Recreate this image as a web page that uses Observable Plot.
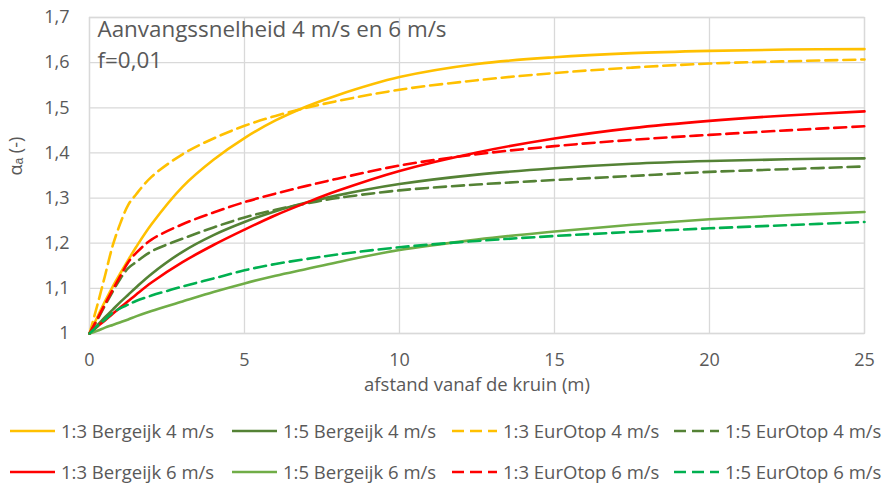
<!DOCTYPE html>
<html>
<head>
<meta charset="utf-8">
<script src="https://cdn.jsdelivr.net/npm/d3@7"></script>
<script src="https://cdn.jsdelivr.net/npm/@observablehq/plot@0.6"></script>
<style>
  html, body { margin: 0; padding: 0; background: #fff; }
  #chart { width: 888px; }
  .legend { font-family: "Open Sans", sans-serif; font-size: 18.5px; color: #595959; padding-top: 10px; }
  .row { display: flex; height: 41px; line-height: 41px; padding-left: 10px; white-space: nowrap; }
  .item { display: flex; align-items: center; }
  .item svg { margin-right: 6px; }
</style>
</head>
<body>
<div id="chart"></div>
<script>
// Distance from the crest (m)
const distance = [0, 0.25, 0.5, 0.75, 1, 1.25, 1.5, 2, 3, 4, 5, 6, 7, 8, 10, 12.5, 15, 17.5, 20, 22.5, 25];

// alpha_a per curve, on the distance grid above
const bergeijk13_4 = [1.000, 1.036, 1.071, 1.104, 1.134, 1.163, 1.191, 1.242, 1.325, 1.385, 1.433, 1.472, 1.503, 1.528, 1.568, 1.597, 1.612, 1.621, 1.626, 1.629, 1.630];
const bergeijk15_4 = [1.000, 1.018, 1.036, 1.053, 1.070, 1.086, 1.102, 1.132, 1.181, 1.218, 1.247, 1.271, 1.290, 1.306, 1.331, 1.352, 1.366, 1.376, 1.382, 1.386, 1.388];
const eurotop13_4  = [1.000, 1.062, 1.128, 1.195, 1.245, 1.285, 1.308, 1.347, 1.397, 1.432, 1.460, 1.482, 1.500, 1.515, 1.540, 1.561, 1.577, 1.589, 1.598, 1.603, 1.607];
const eurotop15_4  = [1.000, 1.030, 1.062, 1.093, 1.122, 1.145, 1.158, 1.182, 1.210, 1.235, 1.257, 1.274, 1.288, 1.300, 1.317, 1.330, 1.340, 1.349, 1.358, 1.364, 1.370];
const bergeijk13_6 = [1.000, 1.015, 1.029, 1.044, 1.058, 1.072, 1.086, 1.113, 1.158, 1.196, 1.230, 1.262, 1.290, 1.316, 1.360, 1.401, 1.432, 1.455, 1.471, 1.483, 1.492];
const bergeijk15_6 = [1.000, 1.006, 1.013, 1.019, 1.025, 1.031, 1.038, 1.050, 1.071, 1.092, 1.111, 1.128, 1.143, 1.158, 1.185, 1.208, 1.226, 1.241, 1.253, 1.262, 1.269];
const eurotop13_6  = [1.000, 1.032, 1.065, 1.097, 1.128, 1.158, 1.178, 1.208, 1.242, 1.268, 1.291, 1.310, 1.327, 1.343, 1.372, 1.397, 1.415, 1.429, 1.440, 1.450, 1.459];
const eurotop15_6  = [1.000, 1.016, 1.031, 1.046, 1.056, 1.064, 1.072, 1.084, 1.104, 1.122, 1.140, 1.154, 1.165, 1.175, 1.191, 1.205, 1.216, 1.225, 1.233, 1.240, 1.247];

const seriesNames = [
  "1:3 Bergeijk 4 m/s", "1:5 Bergeijk 4 m/s", "1:3 EurOtop 4 m/s", "1:5 EurOtop 4 m/s",
  "1:3 Bergeijk 6 m/s", "1:5 Bergeijk 6 m/s", "1:3 EurOtop 6 m/s", "1:5 EurOtop 6 m/s"
];
const seriesValues = [
  bergeijk13_4, bergeijk15_4, eurotop13_4, eurotop15_4,
  bergeijk13_6, bergeijk15_6, eurotop13_6, eurotop15_6
];
const yTicks = [1, 1.1, 1.2, 1.3, 1.4, 1.5, 1.6, 1.7];
const xTicks = [0, 5, 10, 15, 20, 25];

// Line styling per series
const colors = ["#FFC000", "#548235", "#FFC000", "#548235", "#FF0000", "#70AD47", "#FF0000", "#00B050"];
const dashed = [false, false, true, true, false, false, true, true];
const DASH = "12,6";
const GRID = "#d9d9d9";
const TEXT = "#595959";
const FONT = "'Open Sans', sans-serif";

const rows = seriesNames.flatMap((name, i) =>
  distance.map((d, j) => ({series: name, distance: d, alpha: seriesValues[i][j]}))
);

const comma = d => d === 1 ? "1" : d.toFixed(1).replace(".", ",");

const lineMarks = seriesNames.map((name, i) =>
  Plot.line(rows.filter(r => r.series === name), {
    x: "distance", y: "alpha",
    stroke: colors[i], strokeWidth: 2.6,
    strokeDasharray: dashed[i] ? DASH : null,
    curve: "catmull-rom"
  })
);

const chart = Plot.plot({
  width: 888,
  height: 400,
  marginLeft: 89,
  marginRight: 24,
  marginTop: 17,
  marginBottom: 67,
  style: {fontFamily: FONT, fontSize: "18px", color: TEXT, background: "#fff"},
  x: {domain: [0, 25]},
  y: {domain: [1, 1.7]},
  marks: [
    Plot.gridX(xTicks, {stroke: GRID, strokeOpacity: 1, strokeWidth: 1.3}),
    Plot.gridY(yTicks, {stroke: GRID, strokeOpacity: 1, strokeWidth: 1.3}),
    Plot.frame({stroke: GRID, strokeWidth: 1.3}),
    Plot.text(["Aanvangssnelheid 4 m/s en 6 m/s\nf=0,01"], {
      frameAnchor: "top-left", dx: 8, dy: -3, lineAnchor: "top", textAnchor: "start",
      lineHeight: 1.4, fontSize: 22.4, fill: TEXT
    }),
    ...lineMarks,
    Plot.axisX(xTicks, {tickSize: 0, tickPadding: 20, label: null, fill: TEXT}),
    Plot.axisY(yTicks, {tickSize: 0, tickPadding: 20, tickFormat: comma, label: null, fill: TEXT}),
    Plot.text(["afstand vanaf de kruin (m)"], {frameAnchor: "bottom", dy: 57, fontSize: 18.5, fill: TEXT}),
    Plot.text(["αₐ (-)"], {frameAnchor: "left", dx: -73, rotate: -90, fontSize: 18, fill: TEXT})
  ]
});
document.getElementById("chart").appendChild(chart);

// Legend below the plot, two rows of four entries
const legend = d3.select("#chart").append("div").attr("class", "legend");
const itemWidths = [222, 220, 222, null];
[[0, 1, 2, 3], [4, 5, 6, 7]].forEach(idx => {
  const row = legend.append("div").attr("class", "row");
  idx.forEach((i, k) => {
    const item = row.append("div").attr("class", "item");
    if (itemWidths[k]) item.style("width", itemWidths[k] + "px");
    const sw = item.append("svg").attr("width", 45).attr("height", 6);
    sw.append("line").attr("x1", 0).attr("x2", 45).attr("y1", 3).attr("y2", 3)
      .attr("stroke", colors[i]).attr("stroke-width", 2.6)
      .attr("stroke-dasharray", dashed[i] ? DASH : null);
    item.append("span").text(seriesNames[i]);
  });
});
</script>
</body>
</html>
